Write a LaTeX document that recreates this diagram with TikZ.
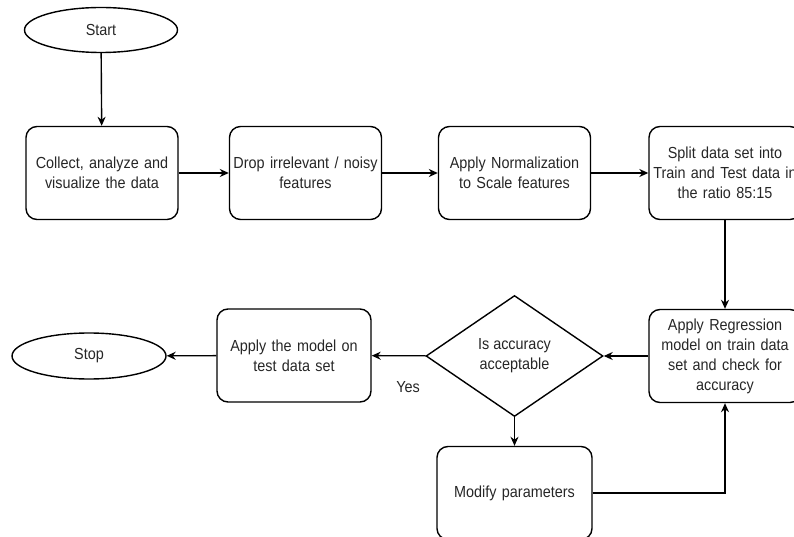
\documentclass[tikz,border=0pt]{standalone}
\usepackage{fontspec}
\setmainfont{Liberation Sans}[FakeStretch=0.9]
\usetikzlibrary{shapes.geometric,arrows.meta}
\begin{document}
\begin{tikzpicture}[x=1pt,y=-1pt,
  every node/.style={font=\fontsize{16}{20}\selectfont, text=black!85, align=center},
  stepbox/.style={draw, line width=1.4pt, rounded corners=11pt, minimum width=152pt, minimum height=93pt, inner sep=0pt, text width=148pt},
  term/.style={draw, ellipse, line width=1.4pt, minimum width=153pt, minimum height=45pt, inner sep=0pt},
  dec/.style={draw, diamond, line width=1.4pt, minimum width=177pt, minimum height=121pt, inner sep=0pt},
  arr/.style={line width=1.4pt, -{Stealth[length=9pt,width=8pt]}}
]
\useasboundingbox (0,0) rectangle (794,537);
\node[term] (start) at (101,30) {Start};
\node[stepbox] (b1) at (102,173) {Collect, analyze and\\visualize the data};
\node[stepbox] (b2) at (305.5,173) {Drop irrelevant / noisy\\features};
\node[stepbox] (b3) at (514.5,173) {Apply Normalization\\to Scale features};
\node[stepbox] (b4) at (725,173) {Split data set into\\Train and Test data in\\the ratio 85:15};
\node[stepbox] (b5) at (725,356) {Apply Regression\\model on train data\\set and check for\\accuracy};
\node[dec] (d) at (514.5,356) {Is accuracy\\acceptable};
\node[stepbox, minimum width=155pt] (mod) at (514.5,493) {Modify parameters};
\node[stepbox, minimum width=154pt] (app) at (294,355.5) {Apply the model on\\test data set};
\node[term, minimum width=154pt, minimum height=46pt] (stop) at (89,356) {Stop};
\node (yes) at (408,387) {Yes};
\coordinate (corner) at (725,493);
\draw[arr] (start) -- (b1);
\draw[arr] (b1) -- (b2);
\draw[arr] (b2) -- (b3);
\draw[arr] (b3) -- (b4);
\draw[arr] (b4) -- (b5);
\draw[arr] (b5) -- (d);
\draw[arr] (d) -- (app);
\draw[arr] (app) -- (stop);
\draw[arr] (d) -- (mod);
\draw[arr] (mod.east) -- (corner) -- (b5.south);
\end{tikzpicture}
\end{document}
